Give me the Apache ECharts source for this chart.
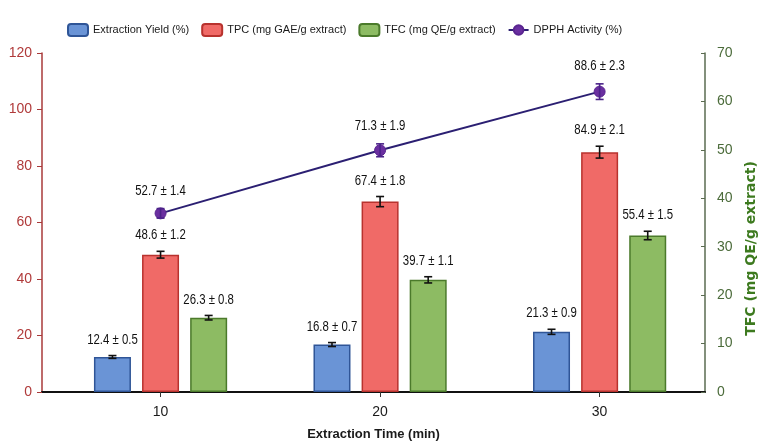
<!DOCTYPE html>
<html>
<head>
<meta charset="utf-8">
<script src="https://cdn.jsdelivr.net/npm/echarts@6/dist/echarts.min.js"></script>
<style>
  html, body { margin: 0; padding: 0; background: #fff; }
  #chart { width: 764px; height: 448px; }
</style>
</head>
<body>
<div id="chart"></div>
<script>
// Extraction times (min)
const times = [10, 20, 30];

// Extraction yield (%) with standard deviation
const yieldVals = [12.4, 16.8, 21.3];
const yieldErr = [0.5, 0.7, 0.9];

// Total phenolic content (mg GAE/g extract)
const tpcVals = [48.6, 67.4, 84.9];
const tpcErr = [1.2, 1.8, 2.1];

// Total flavonoid content (mg QE/g extract)
const tfcVals = [26.3, 39.7, 55.4];
const tfcErr = [0.8, 1.1, 1.5];

// DPPH radical scavenging activity (%)
const dpphVals = [52.7, 71.3, 88.6];
const dpphErr = [1.4, 1.9, 2.3];

// Axis ranges
const timeAxis = { min: 4.6, max: 34.8 };
const leftAxis = { min: 0, max: 120, interval: 20 };
const rightAxis = { min: 0, max: 70, interval: 10 };
const percentAxis = { min: 0, max: 100 };

const names = {
  yield: 'Extraction Yield (%)',
  tpc: 'TPC (mg GAE/g extract)',
  tfc: 'TFC (mg QE/g extract)',
  dpph: 'DPPH Activity (%)'
};

const FONT = '"Liberation Sans", Arial, sans-serif';
const BAR_W = 37;
const GAP_RATIO = 0.3;
const STEP = BAR_W * (1 + GAP_RATIO);

const fmt = (v, e) => v.toFixed(1) + ' \u00b1 ' + e.toFixed(1);
const pairs = (xs, ys) => xs.map((x, i) => [x, ys[i]]);

// Error bar with a value label above the upper cap
function errorSeries(vals, errs, offset, yAxisIndex, color, labelGap) {
  return {
    type: 'custom',
    yAxisIndex: yAxisIndex,
    silent: true,
    z: 10,
    data: vals.map((v, i) => [times[i], v, errs[i]]),
    encode: { x: 0, y: 1 },
    renderItem: function (params, api) {
      const t = api.value(0), v = api.value(1), e = api.value(2);
      const top = api.coord([t, v + e]);
      const bot = api.coord([t, v - e]);
      const x = top[0] + offset;
      const cap = 4;
      const st = { stroke: color, lineWidth: 1.6 };
      return {
        type: 'group',
        children: [
          { type: 'line', shape: { x1: x, y1: top[1], x2: x, y2: bot[1] }, style: st },
          { type: 'line', shape: { x1: x - cap, y1: top[1], x2: x + cap, y2: top[1] }, style: st },
          { type: 'line', shape: { x1: x - cap, y1: bot[1], x2: x + cap, y2: bot[1] }, style: st },
          {
            type: 'text',
            x: x,
            y: top[1] - labelGap,
            scaleX: 0.76,
            style: {
              text: fmt(v, e),
              align: 'center',
              verticalAlign: 'middle',
              fontFamily: FONT,
              fontSize: 15,
              fill: '#111'
            }
          }
        ]
      };
    }
  };
}

function barSeries(name, vals, fill, border) {
  return {
    name: name,
    type: 'bar',
    yAxisIndex: 0,
    barWidth: BAR_W,
    barGap: (GAP_RATIO * 100) + '%',
    data: pairs(times, vals),
    itemStyle: { color: fill, borderColor: border, borderWidth: 1.5 }
  };
}

const chart = echarts.init(document.getElementById('chart'), null, { renderer: 'canvas' });

chart.setOption({
  animation: false,
  backgroundColor: '#ffffff',
  textStyle: { fontFamily: FONT },
  legend: {
    data: [names.yield, names.tpc, names.tfc, names.dpph],
    left: 62,
    top: 18,
    itemWidth: 20,
    itemHeight: 12,
    itemGap: 12,
    textStyle: { fontFamily: FONT, fontSize: 11, color: '#1a1a1a' }
  },
  grid: { left: 42, right: 59, top: 53, bottom: 56, containLabel: false, outerBoundsMode: 'none' },
  xAxis: {
    type: 'value',
    min: timeAxis.min,
    max: timeAxis.max,
    name: 'Extraction Time (min)',
    nameLocation: 'middle',
    nameGap: 36,
    nameTextStyle: { fontFamily: FONT, fontSize: 13, fontWeight: 'bold', color: '#1a1a1a' },
    splitLine: { show: false },
    axisLine: { onZero: false, lineStyle: { color: '#111', width: 2 } },
    axisTick: { length: 5, customValues: times, lineStyle: { color: '#333' } },
    axisLabel: { fontFamily: FONT, fontSize: 14, color: '#1a1a1a', margin: 13, customValues: times }
  },
  yAxis: [
    {
      type: 'value',
      position: 'left',
      min: leftAxis.min, max: leftAxis.max, interval: leftAxis.interval,
      splitLine: { show: false },
      axisLine: { show: true, lineStyle: { color: '#a83a3a', width: 1.5 } },
      axisTick: { show: true, length: 5, lineStyle: { color: '#a83a3a' } },
      axisLabel: { fontFamily: FONT, fontSize: 14, color: '#b03a3a', margin: 10 }
    },
    {
      type: 'value',
      position: 'right',
      min: rightAxis.min, max: rightAxis.max, interval: rightAxis.interval,
      name: names.tfc,
      nameLocation: 'middle',
      nameRotate: 90,
      nameGap: 39,
      nameTextStyle: {
        fontFamily: '"DejaVu Sans", sans-serif', fontSize: 14, fontWeight: 'bold',
        color: '#3d7a1f', padding: [0, 52, 0, 0]
      },
      splitLine: { show: false },
      axisLine: { show: true, lineStyle: { color: '#5a6b50', width: 1.5 } },
      axisTick: { show: true, inside: true, length: 4, lineStyle: { color: '#5a6b50' } },
      axisLabel: { fontFamily: FONT, fontSize: 14, color: '#4b6b3a', margin: 12 }
    },
    {
      type: 'value',
      show: false,
      min: percentAxis.min, max: percentAxis.max
    }
  ],
  series: [
    barSeries(names.yield, yieldVals, '#6a94d6', '#2f5597'),
    barSeries(names.tpc, tpcVals, '#f06a67', '#b8322e'),
    barSeries(names.tfc, tfcVals, '#8dbb63', '#4b7a2b'),
    {
      name: names.dpph,
      type: 'line',
      yAxisIndex: 2,
      data: pairs(times, dpphVals),
      symbol: 'circle',
      symbolSize: 11,
      z: 5,
      lineStyle: { color: '#2b1f72', width: 2 },
      itemStyle: { color: '#6a2fa0', borderColor: '#5a2590', borderWidth: 1 }
    },
    errorSeries(yieldVals, yieldErr, -STEP, 0, '#111', 16),
    errorSeries(tpcVals, tpcErr, 0, 0, '#111', 16),
    errorSeries(tfcVals, tfcErr, STEP, 0, '#111', 16),
    errorSeries(dpphVals, dpphErr, 0, 2, '#4a2288', 18)
  ]
});
</script>
</body>
</html>
